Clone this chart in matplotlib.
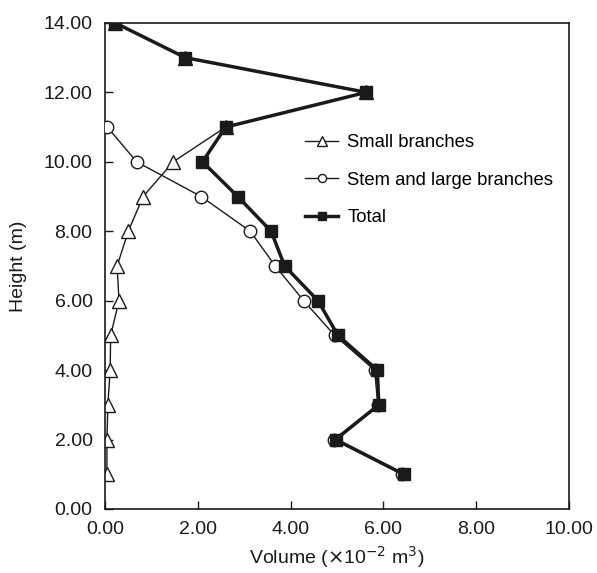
import matplotlib
matplotlib.use("Agg")
import matplotlib.pyplot as plt

plt.rcParams['font.family'] = ['Liberation Sans', 'DejaVu Sans']

# heights (m)
heights_all = [1, 2, 3, 4, 5, 6, 7, 8, 9, 10, 11, 12, 13, 14]
heights_stem = [1, 2, 3, 4, 5, 6, 7, 8, 9, 10, 11]

# volumes (x10^-2 m^3)
small_branches = [0.04, 0.04, 0.06, 0.11, 0.12, 0.30, 0.26, 0.50, 0.82, 1.47, 2.60, 5.63, 1.73, 0.22]
stem_large = [6.40, 4.93, 5.88, 5.81, 4.95, 4.28, 3.67, 3.13, 2.07, 0.68, 0.05]
total = [6.44, 4.97, 5.90, 5.87, 5.02, 4.59, 3.87, 3.58, 2.86, 2.10, 2.60, 5.63, 1.73, 0.22]

xticks = [0, 2, 4, 6, 8, 10]
yticks = [0, 2, 4, 6, 8, 10, 12, 14]

fig = plt.figure(figsize=(5.97, 5.73), dpi=100)
ax = fig.add_axes([0.176, 0.1117, 0.777, 0.8483])

ax.plot(small_branches, heights_all, color='#1a1a1a', lw=1.0, marker='^', ms=10,
        mfc='white', mec='#1a1a1a', mew=1.0, label='Small branches', zorder=2)
ax.plot(stem_large, heights_stem, color='#1a1a1a', lw=1.0, marker='o', ms=9,
        mfc='white', mec='#1a1a1a', mew=1.0, label='Stem and large branches', zorder=3)
ax.plot(total, heights_all, color='#1a1a1a', lw=2.5, marker='s', ms=8,
        mfc='#1a1a1a', mec='#1a1a1a', label='Total', zorder=4)

ax.set_xlim(0, 10)
ax.set_ylim(0, 14)
ax.set_xticks(xticks)
ax.set_yticks(yticks)
ax.set_xticklabels([f"{v:.2f}" for v in xticks])
ax.set_yticklabels([f"{v:.2f}" for v in yticks])
ax.tick_params(direction='in', length=6, width=1.0, labelsize=14, colors='#1a1a1a', pad=9)
for s in ax.spines.values():
    s.set_linewidth(1.2)
    s.set_color('#1a1a1a')

ax.set_xlabel('Volume ($\\times$10$^{-2}$ m$^3$)', fontsize=14, color='#1a1a1a', labelpad=4)
ax.set_ylabel('Height (m)', fontsize=14, color='#1a1a1a', labelpad=12)

leg = ax.legend(loc='upper left', bbox_to_anchor=(0.395, 0.805), frameon=False, fontsize=13.3,
                handlelength=1.8, labelspacing=1.1, markerscale=0.65, handletextpad=0.5)

fig.savefig('out.png', dpi=100)
